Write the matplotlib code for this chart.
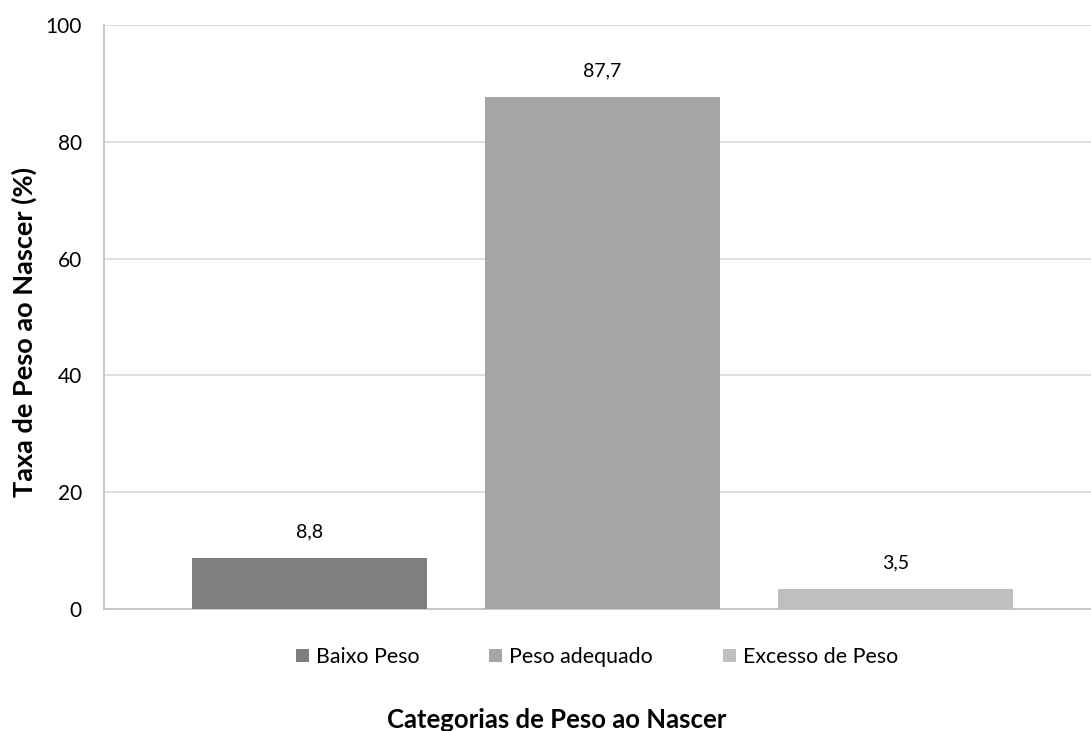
import matplotlib
matplotlib.use("Agg")
import matplotlib.pyplot as plt
from matplotlib.patches import Patch

plt.rcParams['font.family'] = ['Lato', 'DejaVu Sans']

categories = ["Baixo Peso", "Peso adequado", "Excesso de Peso"]
values = [8.8, 87.7, 3.5]
colors = ["#7F7F7F", "#A5A5A5", "#BFBFBF"]
yticks = [0, 20, 40, 60, 80, 100]

fig = plt.figure(figsize=(10.91, 7.31), dpi=100)
ax = fig.add_axes([104 / 1091, 1 - 609 / 731, 1 - 104 / 1091, (609 - 25) / 731])

x = list(range(len(categories)))
bars = ax.bar(x, values, width=0.802, color=colors, zorder=3)

for xi, v in zip(x, values):
    ax.annotate(f"{v:.1f}".replace(".", ","), (xi, v), xytext=(0, 18.5),
                textcoords="offset points", ha="center", va="center",
                fontsize=14, color="#000000")

ax.set_xlim(-0.701, 2.667)
ax.set_ylim(0, 100)
ax.set_yticks(yticks)
ax.set_yticklabels([str(t) for t in yticks], fontsize=15)
ax.set_xticks([])
ax.yaxis.grid(True, color="#D9D9D9", linewidth=1.2, zorder=0)
ax.tick_params(axis="y", length=0, pad=16)

for side in ["top", "right"]:
    ax.spines[side].set_visible(False)
ax.spines["left"].set_color("#BFBFBF")
ax.spines["bottom"].set_color("#BFBFBF")
ax.spines["left"].set_linewidth(1.2)
ax.spines["bottom"].set_linewidth(1.2)

fig.text(24 / 1091, 1 - 332 / 731, "Taxa de Peso ao Nascer (%)", rotation=90,
         ha="center", va="center", fontsize=19.5, fontweight="bold")

handles = [Patch(facecolor=c, edgecolor="none") for c in colors]
fig.legend(handles, categories, loc="center", bbox_to_anchor=(597 / 1091, 1 - 657 / 731),
           ncol=3, frameon=False, fontsize=15.4, handlelength=0.62, handleheight=0.62,
           handletextpad=0.33, columnspacing=3.25)

fig.text(557 / 1091, 1 - 720 / 731, "Categorias de Peso ao Nascer", ha="center", va="center",
         fontsize=18.5, fontweight="bold")

fig.savefig("out.png", dpi=100)
